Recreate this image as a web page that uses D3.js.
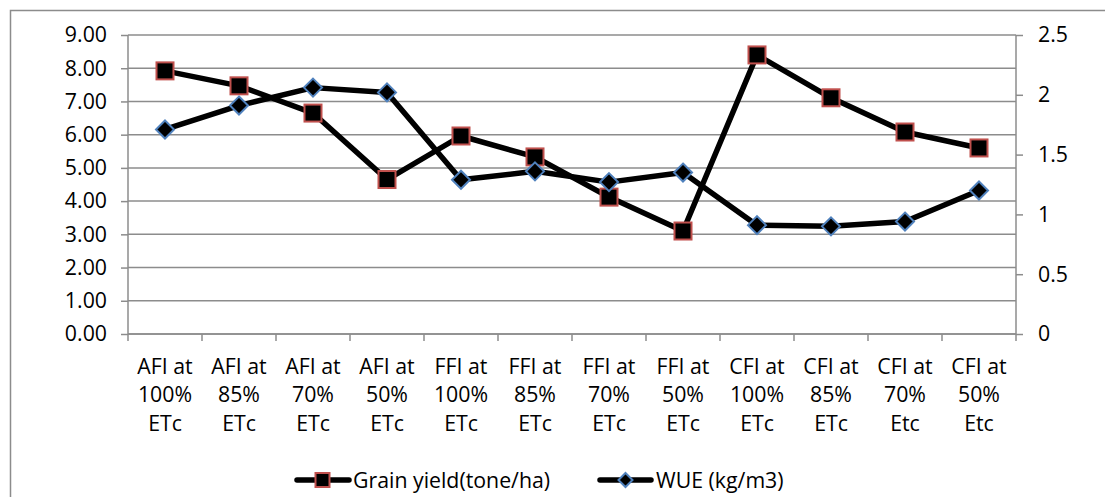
<!DOCTYPE html>
<html><head><meta charset="utf-8">
<script src="https://cdn.jsdelivr.net/npm/d3@7"></script>
<style>body{margin:0;background:#fff}svg{display:block}text{font-family:"Open Sans",sans-serif;fill:#000}</style>
</head><body>
<svg id="c" width="1105" height="497"></svg>
<script>
const categories = [
  ["AFI at","100%","ETc"],["AFI at","85%","ETc"],["AFI at","70%","ETc"],["AFI at","50%","ETc"],
  ["FFI at","100%","ETc"],["FFI at","85%","ETc"],["FFI at","70%","ETc"],["FFI at","50%","ETc"],
  ["CFI at","100%","ETc"],["CFI at","85%","ETc"],["CFI at","70%","Etc"],["CFI at","50%","Etc"]
];
const grainYield = [7.92, 7.47, 6.65, 4.65, 5.96, 5.33, 4.12, 3.10, 8.40, 7.11, 6.08, 5.60];
const wue = [1.71, 1.91, 2.06, 2.02, 1.29, 1.36, 1.27, 1.35, 0.91, 0.90, 0.94, 1.20];
const leftTicks = [0,1,2,3,4,5,6,7,8,9];
const rightTicks = [0,0.5,1,1.5,2,2.5];
const seriesNames = ["Grain yield(tone/ha)", "WUE (kg/m3)"];

const FS = 21.3;
const svg = d3.select("#c");
const L = 128, R = 1016, T = 35, B = 334;
const grid = "#8c8c8c";

svg.append("path").attr("d", `M10.5,497 V10.5 H1105`).attr("fill","none").attr("stroke","#8c8c8c").attr("stroke-width",1.5);

const x = d3.scaleBand().domain(d3.range(categories.length)).range([L, R]);
const yL = d3.scaleLinear().domain([0, 9]).range([B, T]);
const yR = d3.scaleLinear().domain([0, 2.5]).range([B, T]);

// gridlines
svg.append("g").selectAll("line").data(leftTicks).join("line")
  .attr("x1", L).attr("x2", R).attr("y1", d => yL(d)).attr("y2", d => yL(d))
  .attr("stroke", grid).attr("stroke-width", 1.5);

// left axis
const gl = svg.append("g").attr("transform", `translate(${L},0)`)
  .call(d3.axisLeft(yL).tickValues(leftTicks).tickFormat(d3.format(".2f")).tickSize(7).tickPadding(14));
gl.select(".domain").attr("stroke", grid).attr("stroke-width", 1.5).attr("d", `M0,${T}V${B}`);
gl.selectAll(".tick line").attr("stroke", grid).attr("stroke-width", 1.5);
gl.selectAll(".tick text").attr("font-size", FS).attr("font-family", "Open Sans").attr("fill","#000");

// right axis
const gr = svg.append("g").attr("transform", `translate(${R},0)`)
  .call(d3.axisRight(yR).tickValues(rightTicks).tickFormat(d => d3.format("")(d)).tickSize(7).tickPadding(15));
gr.select(".domain").attr("stroke", grid).attr("stroke-width", 1.5).attr("d", `M0,${T}V${B}`);
gr.selectAll(".tick line").attr("stroke", grid).attr("stroke-width", 1.5);
gr.selectAll(".tick text").attr("font-size", FS).attr("font-family", "Open Sans").attr("fill","#000");

// bottom axis
const gb = svg.append("g").attr("transform", `translate(0,${B})`);
gb.append("line").attr("x1", L).attr("x2", R).attr("stroke", grid).attr("stroke-width", 1.5);
gb.selectAll(".bt").data(d3.range(categories.length + 1)).join("line")
  .attr("x1", i => i < categories.length ? x(i) : R).attr("x2", i => i < categories.length ? x(i) : R)
  .attr("y1", 0).attr("y2", 7).attr("stroke", grid).attr("stroke-width", 1.5);
const lbl = gb.selectAll(".lb").data(categories).join("text")
  .attr("text-anchor", "middle").attr("font-size", FS)
  .attr("transform", (d, i) => `translate(${x(i) + x.bandwidth()/2},0)`);
lbl.selectAll("tspan").data(d => d).join("tspan")
  .attr("x", 0).attr("y", (d, j) => 39.5 + j * 28.5).text(d => d);

const cx = i => x(i) + x.bandwidth()/2;
const line1 = d3.line().x((d, i) => cx(i)).y(d => yL(d));
const line2 = d3.line().x((d, i) => cx(i)).y(d => yR(d));

svg.append("path").attr("d", line1(grainYield)).attr("fill","none").attr("stroke","#000").attr("stroke-width",5.5).attr("stroke-linejoin","round");
svg.append("path").attr("d", line2(wue)).attr("fill","none").attr("stroke","#000").attr("stroke-width",5.5).attr("stroke-linejoin","round");

const sq = 17;
svg.append("g").selectAll("rect").data(grainYield).join("rect")
  .attr("x", (d, i) => cx(i) - sq/2).attr("y", d => yL(d) - sq/2)
  .attr("width", sq).attr("height", sq).attr("fill", "#000").attr("stroke", "#c0504d").attr("stroke-width", 2);

const dm = 9;
const diamond = (px, py) => `M${px},${py-dm}L${px+dm},${py}L${px},${py+dm}L${px-dm},${py}Z`;
svg.append("g").selectAll("path").data(wue).join("path")
  .attr("d", (d, i) => diamond(cx(i), yR(d)))
  .attr("fill", "#000").attr("stroke", "#4f81bd").attr("stroke-width", 2);

// legend
const ly = 480;
const leg = svg.append("g");
leg.append("line").attr("x1", 297).attr("x2", 349).attr("y1", ly).attr("y2", ly).attr("stroke","#000").attr("stroke-width",5.5).attr("stroke-linecap","round");
leg.append("rect").attr("x", 322.5 - 7).attr("y", ly - 7).attr("width", 14).attr("height", 14).attr("fill","#000").attr("stroke","#c0504d").attr("stroke-width",2);
leg.append("text").attr("x", 353).attr("y", ly + 7.5).attr("font-size", FS).text(seriesNames[0]);
leg.append("line").attr("x1", 600).attr("x2", 651).attr("y1", ly).attr("y2", ly).attr("stroke","#000").attr("stroke-width",5.5).attr("stroke-linecap","round");
leg.append("path").attr("d", `M625.5,${ly-7}L632.5,${ly}L625.5,${ly+7}L618.5,${ly}Z`).attr("fill","#000").attr("stroke","#4f81bd").attr("stroke-width",2);
leg.append("text").attr("x", 656).attr("y", ly + 7.5).attr("font-size", FS).text(seriesNames[1]);
</script>
</body></html>
